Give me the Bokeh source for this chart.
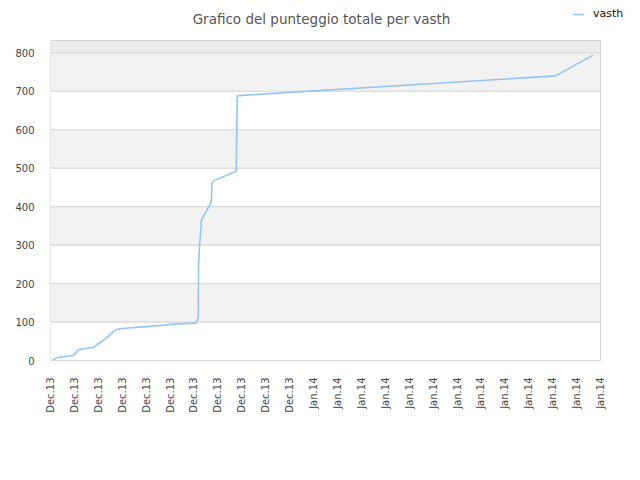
from bokeh.plotting import figure
from bokeh.models import BoxAnnotation, Legend, LegendItem, FixedTicker, Range1d, Label
from bokeh.embed import file_html
from bokeh.resources import INLINE
from math import pi

# ---- data ----
tick_labels = ["Dec.13"] * 11 + ["Jan.14"] * 13
series_name = "vasth"
x_idx = [0.08, 0.25, 0.45, 0.70, 0.93, 1.03, 1.12, 1.25, 1.53, 1.79, 1.95, 2.30,
         2.72, 3.02, 3.53, 4.02, 4.56, 5.06, 5.58, 6.06, 6.09, 6.18, 6.19, 6.24,
         6.32, 6.67, 6.73, 6.75, 6.82, 7.77, 7.78, 7.81, 8.16, 15.68, 21.12, 22.70]
scores = [0, 7, 9, 11, 13, 17, 26, 29, 32, 34, 41, 56,
          80, 83, 86, 88, 91, 94, 96, 97, 97, 113, 252, 305,
          367, 405, 416, 460, 467, 492, 563, 688, 690, 719, 740, 794]
y_ticks = [0, 100, 200, 300, 400, 500, 600, 700, 800]
y_top = 832
title_text = "Grafico del punteggio totale per vasth"

FONT = "DejaVu Sans"
W, H = 624, 464
L, R, T, B = 50, 0, 0, 104
PLOT_W, PLOT_H = 550, 320          # visible plot-area size
FRAME_W, FRAME_H = W - L - R, H - T - B

n = len(tick_labels) - 1
x_end = n * FRAME_W / PLOT_W
y_end = y_top * FRAME_H / PLOT_H

p = figure(width=W, height=H, output_backend="svg", toolbar_location=None,
           x_range=Range1d(0, x_end), y_range=Range1d(0, y_end),
           min_border_left=L, min_border_right=R, min_border_top=T, min_border_bottom=B,
           background_fill_color="white", border_fill_color="white")
p.outline_line_color = None

# alternating bands
for i in range(len(y_ticks)):
    lo = y_ticks[i]
    hi = y_ticks[i + 1] if i + 1 < len(y_ticks) else y_top
    if lo == 800:
        fill = "#ececec"
    elif i % 2 == 1:
        fill = "#f2f2f2"
    else:
        fill = "#ffffff"
    p.add_layout(BoxAnnotation(left=0, right=n, bottom=lo, top=hi, fill_color=fill,
                               fill_alpha=1, line_color=None, level="image"))
# horizontal grid lines at the ticks
for t in y_ticks:
    p.add_layout(BoxAnnotation(left=0, right=n, bottom=t, top=t, fill_color=None,
                               line_color="#dcdcdc", line_alpha=1, line_width=1,
                               level="underlay"))
# plot-area outline
p.add_layout(BoxAnnotation(left=0, right=n, bottom=0, top=y_top, fill_color=None,
                           line_color="#d4d4d4", line_alpha=1, line_width=1,
                           level="underlay"))

r = p.line(x_idx, scores, line_color="#95c5f3", line_width=1.6)

# axes
p.xaxis.ticker = FixedTicker(ticks=list(range(len(tick_labels))))
p.xaxis.major_label_overrides = {i: t for i, t in enumerate(tick_labels)}
p.xaxis.major_label_orientation = pi / 2
p.yaxis.ticker = FixedTicker(ticks=y_ticks)
for ax in (p.xaxis[0], p.yaxis[0]):
    ax.axis_line_color = None
    ax.major_tick_line_color = None
    ax.minor_tick_line_color = None
    ax.major_label_text_font = FONT
    ax.major_label_text_font_size = "10px"
    ax.major_label_text_color = "#444444"
p.xaxis.major_label_standoff = 11
p.yaxis.major_label_standoff = 10
p.xgrid.visible = False
p.ygrid.visible = False

# title (frame-relative screen units)
p.add_layout(Label(x=321 - L, y=FRAME_H - 18, x_units="screen", y_units="screen",
                   text=title_text, text_align="center", text_baseline="alphabetic",
                   text_font=FONT, text_font_size="13.5px", text_color="#555555"))

legend = Legend(items=[LegendItem(label=series_name, renderers=[r])],
                location=(573 - L, FRAME_H - 20),
                orientation="horizontal", padding=0, margin=0, spacing=0,
                glyph_width=11, glyph_height=12, label_height=12,
                label_standoff=9, label_text_font=FONT, label_text_font_size="11px",
                label_text_color="#111111", border_line_color=None,
                background_fill_alpha=0)
p.add_layout(legend)

open("out.html", "w").write(file_html(p, INLINE))
